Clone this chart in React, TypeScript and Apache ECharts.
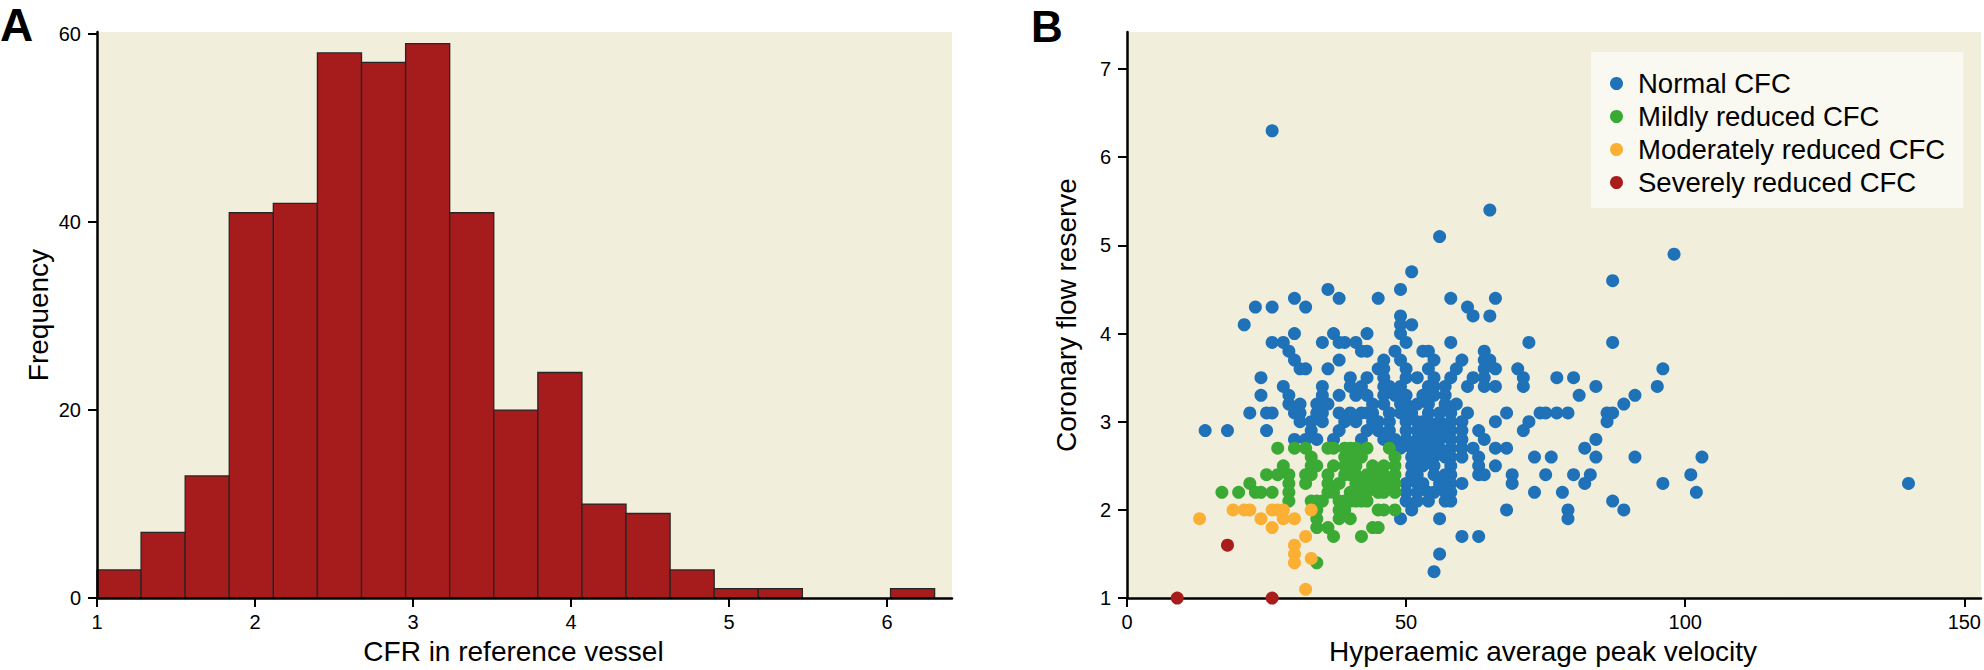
import React, { useEffect, useRef } from "react";
import * as echarts from "echarts";

// ---------- Panel A: histogram ----------
const binEdges = [1.0, 1.279, 1.558, 1.837, 2.116, 2.395, 2.674, 2.953, 3.232, 3.511, 3.79, 4.069, 4.348, 4.627, 4.906, 5.185, 5.464, 5.743, 6.022, 6.301];
const binCounts = [3, 7, 13, 41, 42, 58, 57, 59, 41, 20, 24, 10, 9, 3, 1, 1, 0, 0, 1];
const histXTicks = [1, 2, 3, 4, 5, 6];
const histYTicks = [0, 20, 40, 60];

// ---------- Panel B: scatter ----------
const scatterXTicks = [0, 50, 100, 150];
const scatterYTicks = [1, 2, 3, 4, 5, 6, 7];
const seriesNames = ["Normal CFC", "Mildly reduced CFC", "Moderately reduced CFC", "Severely reduced CFC"];

const normalCFC = [
  [26, 6.3], [65, 5.4], [56, 5.1], [98, 4.9], [51, 4.7], [87, 4.6],
  [36, 4.5], [49, 4.5],
  [30, 4.4], [38, 4.4], [45, 4.4], [58, 4.4], [66, 4.4],
  [23, 4.3], [26, 4.3], [32, 4.3], [61, 4.3],
  [49, 4.2], [62, 4.2], [65, 4.2],
  [21, 4.1], [49, 4.1], [51, 4.1],
  [30, 4.0], [37, 4.0], [43, 4.0], [49, 4.0],
  [26, 3.9], [28, 3.9], [35, 3.9], [38, 3.9], [39, 3.9], [41, 3.9], [50, 3.9], [58, 3.9], [72, 3.9], [87, 3.9],
  [29, 3.8], [42, 3.8], [43, 3.8], [48, 3.8], [53, 3.8], [54, 3.8], [64, 3.8],
  [30, 3.7], [38, 3.7], [46, 3.7], [49, 3.7], [55, 3.7], [60, 3.7], [64, 3.7], [65, 3.7],
  [31, 3.6], [32, 3.6], [36, 3.6], [45, 3.6], [46, 3.6], [50, 3.6], [54, 3.6], [59, 3.6], [64, 3.6], [66, 3.6], [70, 3.6], [96, 3.6],
  [24, 3.5], [40, 3.5], [43, 3.5], [46, 3.5], [50, 3.5], [52, 3.5], [55, 3.5], [58, 3.5], [62, 3.5], [64, 3.5], [71, 3.5], [77, 3.5], [80, 3.5],
  [28, 3.4], [35, 3.4], [40, 3.4], [42, 3.4], [46, 3.4], [47, 3.4], [49, 3.4], [54, 3.4], [55, 3.4], [57, 3.4], [61, 3.4], [64, 3.4], [66, 3.4], [71, 3.4], [84, 3.4], [95, 3.4],
  [24, 3.3], [29, 3.3], [35, 3.3], [38, 3.3], [41, 3.3], [43, 3.3], [46, 3.3], [48, 3.3], [50, 3.3], [53, 3.3], [55, 3.3], [57, 3.3], [81, 3.3], [91, 3.3],
  [29, 3.2], [31, 3.2], [34, 3.2], [36, 3.2], [44, 3.2], [46, 3.2], [49, 3.2], [50, 3.2], [52, 3.2], [54, 3.2], [57, 3.2], [59, 3.2], [89, 3.2],
  [22, 3.1], [25, 3.1], [26, 3.1], [30, 3.1], [31, 3.1], [34, 3.1], [35, 3.1], [38, 3.1], [40, 3.1], [42, 3.1], [43, 3.1], [44, 3.1], [47, 3.1], [49, 3.1], [51, 3.1], [54, 3.1], [56, 3.1], [58, 3.1], [61, 3.1], [68, 3.1], [74, 3.1], [75, 3.1], [77, 3.1], [79, 3.1], [86, 3.1], [87, 3.1],
  [31, 3.0], [33, 3.0], [35, 3.0], [39, 3.0], [41, 3.0], [44, 3.0], [45, 3.0], [47, 3.0], [50, 3.0], [52, 3.0], [53, 3.0], [54, 3.0], [56, 3.0], [58, 3.0], [60, 3.0], [66, 3.0], [72, 3.0], [86, 3.0],
  [14, 2.9], [18, 2.9], [25, 2.9], [33, 2.9], [38, 2.9], [43, 2.9], [45, 2.9], [47, 2.9], [50, 2.9], [52, 2.9], [53, 2.9], [55, 2.9], [57, 2.9], [58, 2.9], [60, 2.9], [63, 2.9], [71, 2.9],
  [30, 2.8], [32, 2.8], [34, 2.8], [37, 2.8], [42, 2.8], [46, 2.8], [48, 2.8], [50, 2.8], [52, 2.8], [54, 2.8], [56, 2.8], [58, 2.8], [60, 2.8], [64, 2.8], [84, 2.8],
  [49, 2.7], [51, 2.7], [52, 2.7], [53, 2.7], [55, 2.7], [56, 2.7], [58, 2.7], [60, 2.7], [62, 2.7], [66, 2.7], [68, 2.7], [82, 2.7],
  [51, 2.6], [52, 2.6], [53, 2.6], [54, 2.6], [55, 2.6], [57, 2.6], [58, 2.6], [60, 2.6], [63, 2.6], [73, 2.6], [76, 2.6], [84, 2.6], [91, 2.6], [103, 2.6],
  [51, 2.5], [53, 2.5], [55, 2.5], [58, 2.5], [63, 2.5], [66, 2.5],
  [51, 2.4], [52, 2.4], [55, 2.4], [57, 2.4], [58, 2.4], [63, 2.4], [64, 2.4], [69, 2.4], [75, 2.4], [80, 2.4], [83, 2.4], [101, 2.4],
  [50, 2.3], [52, 2.3], [53, 2.3], [56, 2.3], [58, 2.3], [60, 2.3], [69, 2.3], [82, 2.3], [96, 2.3], [140, 2.3],
  [50, 2.2], [52, 2.2], [54, 2.2], [55, 2.2], [57, 2.2], [58, 2.2], [73, 2.2], [78, 2.2], [102, 2.2],
  [50, 2.1], [52, 2.1], [54, 2.1], [57, 2.1], [58, 2.1], [87, 2.1],
  [51, 2.0], [68, 2.0], [79, 2.0], [89, 2.0],
  [49, 1.9], [56, 1.9], [79, 1.9],
  [60, 1.7], [63, 1.7],
  [56, 1.5],
  [55, 1.3],
];

const mildCFC = [
  [27, 2.7], [30, 2.7], [32, 2.7], [36, 2.7], [37, 2.7], [39, 2.7], [40, 2.7], [41, 2.7], [43, 2.7], [47, 2.7],
  [33, 2.6], [39, 2.6], [41, 2.6], [42, 2.6], [48, 2.6],
  [28, 2.5], [33, 2.5], [34, 2.5], [37, 2.5], [39, 2.5], [40, 2.5], [41, 2.5], [44, 2.5], [46, 2.5], [48, 2.5],
  [25, 2.4], [27, 2.4], [29, 2.4], [32, 2.4], [33, 2.4], [36, 2.4], [39, 2.4], [40, 2.4], [41, 2.4], [43, 2.4], [44, 2.4], [45, 2.4], [46, 2.4], [48, 2.4],
  [22, 2.3], [29, 2.3], [32, 2.3], [36, 2.3], [38, 2.3], [41, 2.3], [42, 2.3], [44, 2.3], [46, 2.3], [47, 2.3], [48, 2.3],
  [17, 2.2], [20, 2.2], [23, 2.2], [24, 2.2], [26, 2.2], [29, 2.2], [36, 2.2], [37, 2.2], [40, 2.2], [42, 2.2], [43, 2.2], [45, 2.2], [46, 2.2], [48, 2.2],
  [29, 2.1], [33, 2.1], [34, 2.1], [35, 2.1], [38, 2.1], [39, 2.1], [40, 2.1], [41, 2.1], [42, 2.1], [43, 2.1],
  [34, 2.0], [38, 2.0], [39, 2.0], [45, 2.0], [46, 2.0], [48, 2.0],
  [34, 1.9], [38, 1.9], [40, 1.9],
  [34, 1.8], [36, 1.8], [44, 1.8], [45, 1.8],
  [37, 1.7], [42, 1.7],
  [34, 1.4],
];

const moderateCFC = [
  [13, 1.9], [19, 2.0], [21, 2.0], [22, 2.0], [24, 1.9], [26, 2.0], [27, 2.0], [28, 2.0], [28, 1.9], [30, 1.9],
  [26, 1.8], [33, 2.0], [32, 1.7], [30, 1.6], [30, 1.5], [30, 1.4], [33, 1.45], [32, 1.1],
];

const severeCFC = [[9, 1.0], [18, 1.6], [26, 1.0]];

const colors = ["#1F71B8", "#3AAA35", "#FBB034", "#A81C1C"];
const FONT = "'Liberation Sans', Arial, sans-serif";
const BG = "#F1EEDC";

function valueAxisBase(ticks: number[]) {
  return {
    type: "value",
    splitLine: { show: false },
    axisLine: { show: true, onZero: false, lineStyle: { color: "#000", width: 2.5 } },
    axisTick: { show: true, length: 9, lineStyle: { color: "#000", width: 2 }, customValues: ticks },
    axisLabel: { customValues: ticks, fontSize: 20, color: "#000", fontFamily: FONT },
    nameLocation: "middle",
  };
}

export default function App() {
  const ref = useRef<HTMLDivElement>(null);
  useEffect(() => {
    if (!ref.current) return;
    const chart = echarts.init(ref.current, null, { renderer: "svg" });
    const histData = binCounts.map((c, i) => [binEdges[i], binEdges[i + 1], c]);
    const scatterData = [normalCFC, mildCFC, moderateCFC, severeCFC];
    const option: any = {
      animation: false,
      backgroundColor: "#ffffff",
      textStyle: { fontFamily: FONT },
      grid: [
        { left: 97, top: 32, width: 855, height: 570, show: true, backgroundColor: BG, borderWidth: 0 },
        { left: 1127, top: 32, width: 855, height: 570, show: true, backgroundColor: BG, borderWidth: 0 },
      ],
      xAxis: [
        {
          ...valueAxisBase(histXTicks),
          gridIndex: 0, min: 1, max: 6.411, z: 5,
          axisLabel: { customValues: histXTicks, fontSize: 20, color: "#000", margin: 14, fontFamily: FONT },
          name: "CFR in reference vessel", nameGap: 37,
          nameTextStyle: { fontSize: 28, color: "#000", padding: [0, 22, 0, 0], fontFamily: FONT },
        },
        {
          ...valueAxisBase(scatterXTicks),
          gridIndex: 1, min: 0, max: 153,
          axisLabel: { customValues: scatterXTicks, fontSize: 20, color: "#000", margin: 14, fontFamily: FONT },
          name: "Hyperaemic average peak velocity", nameGap: 37,
          nameTextStyle: { fontSize: 28, color: "#000", padding: [0, 22, 0, 0], fontFamily: FONT },
        },
      ],
      yAxis: [
        {
          ...valueAxisBase(histYTicks),
          gridIndex: 0, min: 0, max: 60.23, z: 5,
          axisLabel: { customValues: histYTicks, fontSize: 20, color: "#000", margin: 16, fontFamily: FONT },
          name: "Frequency", nameGap: 45,
          nameTextStyle: { fontSize: 28, color: "#000", fontFamily: FONT },
        },
        {
          ...valueAxisBase(scatterYTicks),
          gridIndex: 1, min: 1, max: 7.42,
          axisLabel: { customValues: scatterYTicks, fontSize: 20, color: "#000", margin: 16, fontFamily: FONT },
          name: "Coronary flow reserve", nameGap: 47,
          nameTextStyle: { fontSize: 28, color: "#000", fontFamily: FONT },
        },
      ],
      legend: {
        orient: "vertical",
        left: 1591,
        top: 52,
        padding: [15, 18, 9, 19],
        backgroundColor: "#F9F8F1",
        itemWidth: 13,
        itemHeight: 13,
        itemGap: 0,
        icon: "circle",
        selectedMode: false,
        textStyle: { fontSize: 27.5, color: "#000", lineHeight: 33, fontFamily: FONT, padding: [0, 0, 0, 10] },
        data: seriesNames,
      },
      graphic: [
        { type: "text", left: 0, top: 2, style: { text: "A", font: "bold 46px 'Liberation Sans Narrow', 'Liberation Sans', Arial, sans-serif", fill: "#000" } },
        { type: "text", left: 1031, top: 4, style: { text: "B", font: "bold 44px 'Liberation Sans Narrow', 'Liberation Sans', Arial, sans-serif", fill: "#000" } },
      ],
      series: [
        {
          type: "custom",
          xAxisIndex: 0,
          yAxisIndex: 0,
          data: histData,
          encode: { x: [0, 1], y: 2 },
          renderItem: (params: any, api: any) => {
            const count = api.value(2);
            if (!count) return { type: "group", children: [] };
            const s = api.coord([api.value(0), 0]);
            const e = api.coord([api.value(1), count]);
            return {
              type: "rect",
              shape: { x: s[0], y: e[1], width: e[0] - s[0], height: s[1] - e[1] },
              style: { fill: "#A61B1B", stroke: "#262626", lineWidth: 1.3 },
            };
          },
        },
        ...scatterData.map((d, i) => ({
          type: "scatter",
          name: seriesNames[i],
          xAxisIndex: 1,
          yAxisIndex: 1,
          data: d,
          symbol: "circle",
          symbolSize: 13,
          itemStyle: { color: colors[i], opacity: 1 },
          z: 3 + i,
        })),
      ],
    };
    chart.setOption(option);
    return () => chart.dispose();
  }, []);
  return (
    <div
      ref={ref}
      style={{ position: "fixed", left: 0, top: 0, width: 1984, height: 670, background: "#fff" }}
    />
  );
}
